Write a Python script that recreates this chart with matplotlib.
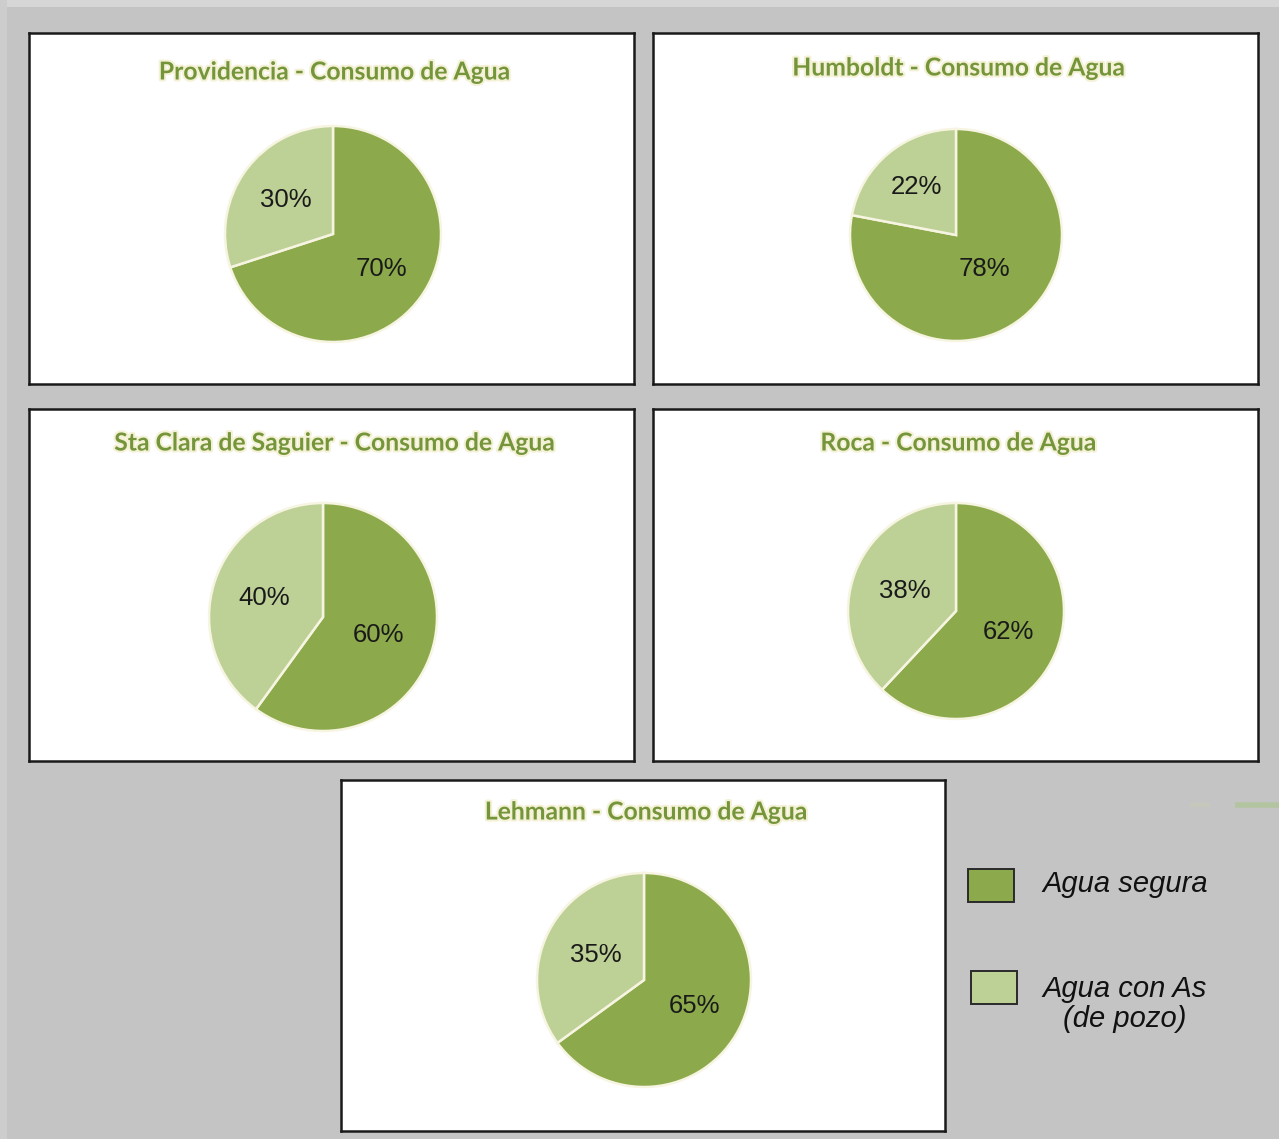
import matplotlib.pyplot as plt
import matplotlib.patheffects as pe
from matplotlib.patches import Rectangle
import numpy as np

# Consumo de agua por localidad (%)
towns = ['Providencia', 'Humboldt', 'Sta Clara de Saguier', 'Roca', 'Lehmann']
agua_segura = [70, 78, 60, 62, 65]
agua_con_as = [30, 22, 40, 38, 35]
legend_labels = ['Agua segura', 'Agua con As\n(de pozo)']

# colores
DARK = '#8caa4c'
LIGHT = '#bdd197'
TITLE_C = '#74953a'
BG = '#c4c4c4'

W, H = 1279, 1139

# paneles en pixeles: (x0, y0, x1, y1), centro del pie (cx, cy), radio, titulo y
panels = [
    ((29, 33, 634, 384), (333, 234), 108, 72),
    ((653, 33, 1258, 384), (956, 235), 106, 68),
    ((29, 409, 634, 761), (323, 617), 114, 443),
    ((653, 409, 1258, 761), (956, 611), 108, 443),
    ((341, 780, 945, 1131), (644, 980), 107, 812),
]
# distancia radial de las etiquetas (fraccion del radio) por panel: [segura, con As]
label_dist = [[0.55, 0.54], [0.42, 0.59], [0.51, 0.54], [0.52, 0.51], [0.53, 0.51]]

fig = plt.figure(figsize=(W / 100, H / 100), dpi=100)
fig.patch.set_facecolor(BG)
# franja clara arriba e izquierda
fig.patches.append(Rectangle((0, 1 - 7 / H), 1, 7 / H, transform=fig.transFigure,
                             facecolor='#d6d6d6', edgecolor='none', zorder=0))
fig.patches.append(Rectangle((0, 0), 7 / W, 1, transform=fig.transFigure,
                             facecolor='#cdcdcd', edgecolor='none', zorder=0))


def px_axes(x0, y0, x1, y1):
    return fig.add_axes([x0 / W, 1 - y1 / H, (x1 - x0) / W, (y1 - y0) / H])


for i, town in enumerate(towns):
    (x0, y0, x1, y1), (cx, cy), r, ty = panels[i]
    ax = px_axes(x0, y0, x1, y1)
    ax.set_facecolor('white')
    pw, ph = x1 - x0, y1 - y0
    # coordenadas del panel en pixeles (y hacia arriba)
    center = (cx - x0, y1 - cy)
    wedges, _ = ax.pie([agua_segura[i], agua_con_as[i]], colors=[DARK, LIGHT],
                       startangle=90, counterclock=False, radius=r, center=center,
                       frame=True,
                       wedgeprops=dict(edgecolor='#f7f5e2', linewidth=1.8))
    ax.set_aspect('auto')
    ax.set_xlim(0, pw)
    ax.set_ylim(0, ph)
    ax.set_xticks([])
    ax.set_yticks([])
    for s in ax.spines.values():
        s.set_color('#1a1a1a')
        s.set_linewidth(1.8)

    vals = [agua_segura[i], agua_con_as[i]]
    for j, w in enumerate(wedges):
        ang = np.deg2rad((w.theta1 + w.theta2) / 2)
        d = label_dist[i][j] * r
        ax.text(center[0] + d * np.cos(ang), center[1] + d * np.sin(ang),
                f'{vals[j]}%', ha='center', va='center', fontsize=18.5,
                family='Liberation Sans', color='#1a1a1a')

    ax.text(pw / 2 + 3, y1 - ty, f'{town} - Consumo de Agua', ha='center', va='center',
            fontsize=17.8, fontweight='bold', family='Lato', color=TITLE_C,
            path_effects=[pe.withStroke(linewidth=3, foreground='#f4f1d6')])

# leyenda
lax = fig.add_axes([0, 0, 1, 1], facecolor='none')
lax.set_xlim(0, W)
lax.set_ylim(H, 0)
lax.axis('off')
leg_boxes = [(968, 869), (971, 971)]
leg_text = [(1125, 884), (1125, 1004)]
for k, lab in enumerate(legend_labels):
    bx, by = leg_boxes[k]
    lax.add_patch(Rectangle((bx, by), 46, 33, facecolor=[DARK, LIGHT][k],
                            edgecolor='#2a2a2a', linewidth=1.4))
    lax.text(leg_text[k][0], leg_text[k][1], lab, ha='center', va='center',
             fontsize=21, style='italic', family='Liberation Sans',
             color='#111111', linespacing=1.1)

# trazo verde tenue arriba a la derecha
lax.plot([1235, 1279], [805, 805], color='#a9c48a', linewidth=4, alpha=0.6,
         solid_capstyle='butt')
lax.plot([1190, 1210], [805, 805], color='#c7cbb5', linewidth=3, alpha=0.6,
         solid_capstyle='butt')

fig.savefig('out.png', dpi=100, facecolor=fig.get_facecolor())
